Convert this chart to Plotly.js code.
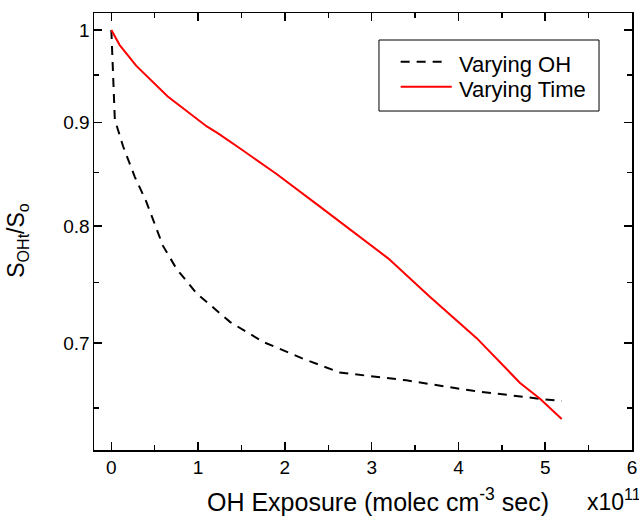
<!DOCTYPE html>
<html>
<head>
<meta charset="utf-8">
<script src="https://cdn.plot.ly/plotly-3.0.1.min.js"></script>
<style>html,body{margin:0;padding:0;background:#fff;}#chart{width:639px;height:521px;}</style>
</head>
<body>
<div id="chart"></div>
<script>
// OH exposure in units of 1e11 molec cm^-3 sec
var ohX = [0, 0.02, 0.04, 0.135, 0.27, 0.40, 0.595, 0.75, 0.98, 1.37, 1.75, 2.20, 2.63, 3.40, 4.17, 4.94, 5.19];
var ohY = [1.0, 0.945, 0.903, 0.876, 0.846, 0.823, 0.782, 0.762, 0.741, 0.717, 0.701, 0.688, 0.677, 0.671, 0.663, 0.657, 0.6553];

var timeX = [0, 0.096, 0.288, 0.65, 1.10, 1.23, 1.48, 1.90, 2.40, 3.19, 3.67, 4.21, 4.71, 4.94, 5.19];
var timeY = [1.0, 0.983, 0.960, 0.927, 0.896, 0.889, 0.874, 0.849, 0.818, 0.771, 0.738, 0.704, 0.669, 0.657, 0.642];

var seriesNames = ["Varying OH", "Varying Time"];
var xTickVals = [0, 1, 2, 3, 4, 5, 6];
var yTickVals = [0.7, 0.8, 0.9, 1];
var yTickText = ["0.7", "0.8", "0.9", "1"];
var yMinorVals = [0.65, 0.75, 0.85, 0.95];

var FONT = "Arial, 'Liberation Sans', sans-serif";
var DASH = "9px,7px";

var traces = [
  {x: ohX, y: ohY, mode: "lines", name: seriesNames[0],
   line: {color: "#000000", width: 2, dash: DASH}},
  {x: timeX, y: timeY, mode: "lines", name: seriesNames[1],
   line: {color: "#ff0000", width: 2}}
];

// manual legend (box, samples, labels) in paper coordinates
var legendShapes = [
  {type: "rect", xref: "paper", yref: "paper", x0: 0.5297, x1: 0.9387, y0: 0.7757, y1: 0.9382,
   line: {color: "#000", width: 1}, fillcolor: "rgba(0,0,0,0)"},
  {type: "line", xref: "paper", yref: "paper", x0: 0.570, x1: 0.6567, y0: 0.8886, y1: 0.8886,
   line: {color: "#000", width: 2, dash: DASH}},
  {type: "line", xref: "paper", yref: "paper", x0: 0.570, x1: 0.6649, y0: 0.8314, y1: 0.8314,
   line: {color: "#ff0000", width: 2}}
];
var legendLabels = [
  {text: seriesNames[0], xref: "paper", yref: "paper", x: 0.6753, y: 0.8815,
   xanchor: "left", yanchor: "middle", showarrow: false,
   font: {family: FONT, size: 22, color: "#000"}},
  {text: seriesNames[1], xref: "paper", yref: "paper", x: 0.6753, y: 0.8260,
   xanchor: "left", yanchor: "middle", showarrow: false,
   font: {family: FONT, size: 22, color: "#000"}}
];

var layout = {
  width: 639, height: 521,
  margin: {l: 94, r: 7, t: 13, b: 71},
  paper_bgcolor: "#fff", plot_bgcolor: "#fff",
  font: {family: FONT, size: 19, color: "#000"},
  showlegend: false,
  xaxis: {range: [-0.2, 6], tickmode: "array", tickvals: xTickVals,
          ticks: "inside", ticklen: 8, tickwidth: 1.5, tickcolor: "#000",
          showline: true, linecolor: "#000", linewidth: 1.5, mirror: "ticks",
          showgrid: false, zeroline: false,
          tickfont: {family: FONT, size: 19},
          minor: {dtick: 0.5, tick0: 0, ticks: "inside", ticklen: 5, tickwidth: 1.5, tickcolor: "#000", showgrid: false}},
  yaxis: {type: "log", range: [Math.log10(0.6198), Math.log10(1.0196)],
          tickmode: "array", tickvals: yTickVals, ticktext: yTickText,
          ticks: "inside", ticklen: 8, tickwidth: 1.5, tickcolor: "#000",
          showline: true, linecolor: "#000", linewidth: 1.5, mirror: "ticks",
          showgrid: false, zeroline: false, ticklabelstandoff: -1,
          tickfont: {family: FONT, size: 19},
          minor: {tickmode: "array", tickvals: yMinorVals, ticks: "inside", ticklen: 5, tickwidth: 1.5, tickcolor: "#000", showgrid: false}},
  shapes: legendShapes,
  annotations: [
    {text: "OH Exposure (molec cm<sup>-3</sup> sec)", xref: "paper", yref: "paper",
     x: 0.527, y: -0.115, xanchor: "center", yanchor: "middle", showarrow: false,
     font: {family: FONT, size: 25, color: "#000"}},
    {text: "x10<sup>11</sup>", xref: "paper", yref: "paper",
     x: 0.9126, y: -0.115, xanchor: "left", yanchor: "middle", showarrow: false,
     font: {family: FONT, size: 23, color: "#000"}},
    {text: "S<sub>OHt</sub>/S<sub>o</sub>", xref: "paper", yref: "paper",
     x: -0.142, y: 0.48, xanchor: "center", yanchor: "middle", textangle: -90, showarrow: false,
     font: {family: FONT, size: 23, color: "#000"}}
  ].concat(legendLabels)
};

Plotly.newPlot("chart", traces, layout, {displayModeBar: false, staticPlot: true});
</script>
</body>
</html>
